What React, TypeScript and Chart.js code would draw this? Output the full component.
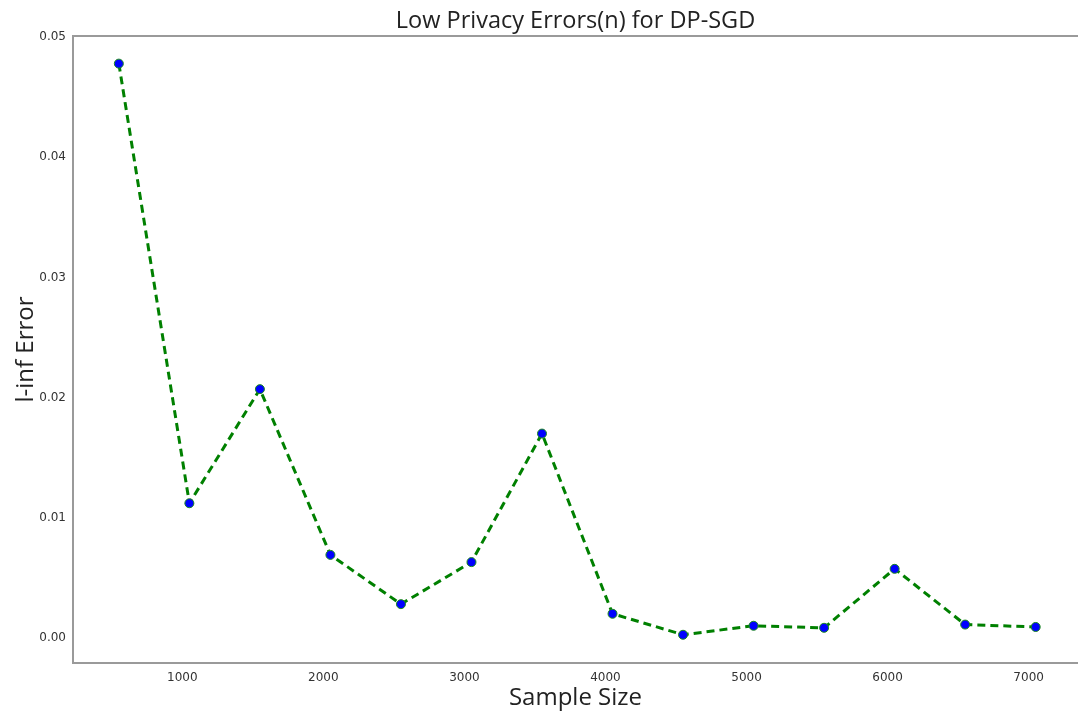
import React, { useEffect, useRef } from "react";
import { Chart, registerables } from "chart.js";

Chart.register(...registerables);

const sampleSizes = [550, 1050, 1550, 2050, 2550, 3050, 3550, 4050, 4550, 5050, 5550, 6050, 6550, 7050];
const errors = [0.0478, 0.0112, 0.0207, 0.0069, 0.0028, 0.0063, 0.017, 0.002, 0.00025, 0.001, 0.00083, 0.00574, 0.0011, 0.0009];
const xTicks = [1000, 2000, 3000, 4000, 5000, 6000, 7000];
const yTicks = [0, 0.01, 0.02, 0.03, 0.04, 0.05];

const FONT = "'DejaVu Sans', sans-serif";
const TFONT = "'Open Sans', sans-serif";
const SPINE = "#9a9a9a";

const topSpine = {
  id: "topSpine",
  afterDraw(chart: any) {
    const { ctx, chartArea } = chart;
    ctx.save();
    ctx.strokeStyle = SPINE;
    ctx.lineWidth = 2;
    ctx.beginPath();
    ctx.moveTo(chartArea.left, chartArea.top);
    ctx.lineTo(chartArea.right, chartArea.top);
    ctx.stroke();
    ctx.restore();
  },
};

export default function App() {
  const ref = useRef<HTMLCanvasElement>(null);
  useEffect(() => {
    const chart = new Chart(ref.current!, {
      type: "scatter",
      data: {
        datasets: [
          {
            data: sampleSizes.map((x, i) => ({ x, y: errors[i] })),
            showLine: true,
            borderColor: "#008000",
            borderWidth: 3,
            borderDash: [8, 5],
            pointBackgroundColor: "#0000ff",
            pointBorderColor: "#1a8a1a",
            pointBorderWidth: 1,
            pointRadius: 4.5,
          },
        ],
      },
      plugins: [topSpine],
      options: {
        animation: false,
        responsive: false,
        layout: { autoPadding: false, padding: { left: 0, right: 0, top: 0, bottom: 0 } },
        plugins: {
          legend: { display: false },
          tooltip: { enabled: false },
          title: {
            display: true,
            fullSize: false,
            text: "Low Privacy Errors(n) for DP-SGD",
            color: "#222",
            font: { family: TFONT, size: 23.5, weight: "normal", lineHeight: 1.2 },
            padding: { top: 7, bottom: 0.8 },
          },
        },
        scales: {
          x: {
            type: "linear",
            min: 225,
            max: 7350,
            grid: { display: false, drawTicks: true, tickLength: 4, tickColor: SPINE } as any,
            border: { display: true, color: SPINE, width: 2 },
            ticks: {
              color: "#333",
              font: { family: FONT, size: 12 },
              padding: 4,
              maxRotation: 0,
              callback: (v: any) => String(v),
            },
            afterBuildTicks: (axis: any) => {
              axis.ticks = xTicks.map((v) => ({ value: v }));
            },
            afterFit: (axis: any) => {
              axis.height = 51;
              axis.paddingLeft = 0;
              axis.paddingRight = 0;
            },
            title: {
              display: true,
              text: "Sample Size",
              color: "#222",
              font: { family: TFONT, size: 24, lineHeight: 1.2 },
              padding: { top: 0, bottom: 1 },
            },
          },
          y: {
            type: "linear",
            min: -0.0021,
            max: 0.0501,
            grid: { display: false, drawTicks: true, tickLength: 4, tickColor: SPINE } as any,
            border: { display: true, color: SPINE, width: 2 },
            ticks: {
              color: "#333",
              font: { family: FONT, size: 12 },
              padding: 3,
              callback: (v: any) => Number(v).toFixed(2),
            },
            afterBuildTicks: (axis: any) => {
              axis.ticks = yTicks.map((v) => ({ value: v }));
            },
            afterFit: (axis: any) => {
              axis.width = 73;
              axis.paddingTop = 0;
              axis.paddingBottom = 0;
            },
            title: {
              display: true,
              text: "l-inf Error",
              color: "#222",
              font: { family: TFONT, size: 24, lineHeight: 1.2 },
              padding: { top: 12, bottom: 0 },
            },
          },
        },
      },
    });
    return () => chart.destroy();
  }, []);
  return (
    <div style={{ position: "absolute", left: 0, top: 0, width: 1078, height: 714, background: "#fff" }}>
      <canvas ref={ref} width={1078} height={714} style={{ display: "block" }} />
    </div>
  );
}
